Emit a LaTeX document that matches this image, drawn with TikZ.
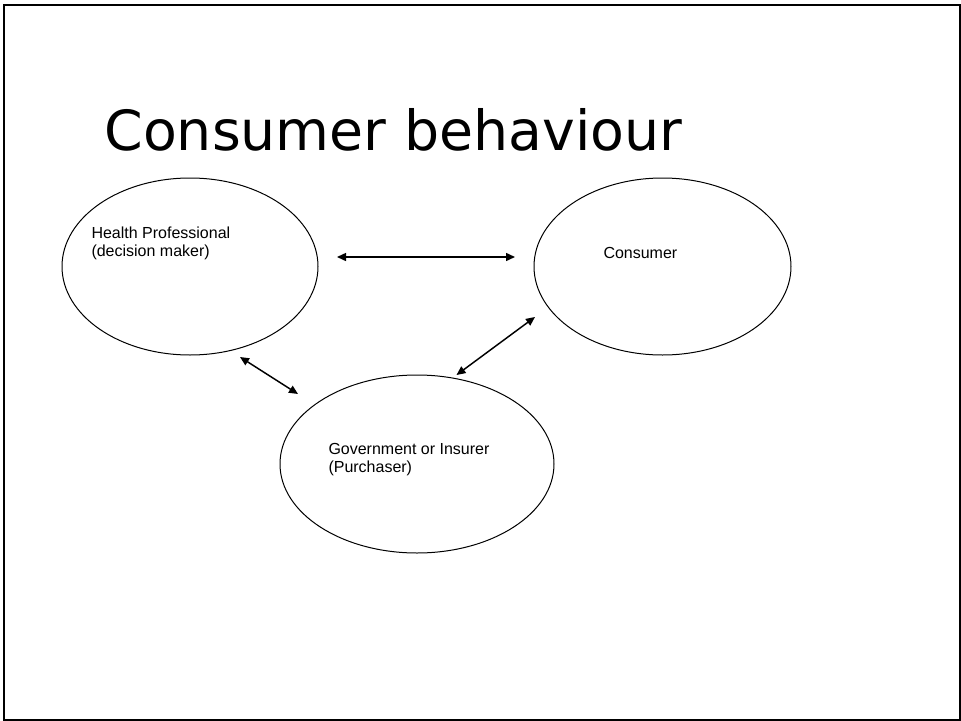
\documentclass[tikz,border=0pt]{standalone}
\usepackage{fontspec}
\setmainfont{Liberation Sans}
\newfontfamily\headfont{DejaVu Sans}
\usetikzlibrary{shapes.geometric,arrows.meta}

\tikzset{every picture/.style={line width=0.75pt}}
\tikzset{
  party/.style={draw, ellipse, inner sep=0pt, line width=0.75pt},
  partytext/.style={anchor=north west, inner sep=0pt, align=left, font=\fontsize{12}{13.6}\selectfont},
  link/.style={{Triangle[length=6.75pt,width=6pt]}-{Triangle[length=6.75pt,width=6pt]}, line width=1.1pt}
}

\begin{document}
\begin{tikzpicture}[x=0.75pt,y=0.75pt,yscale=-1,xscale=1]
\useasboundingbox (0,0) rectangle (961,721);

%Shape: Rectangle [id:slide frame]
\draw[line width=1.5pt] (4.3,4.5) rectangle (959.8,720);

%Title
\node[anchor=base west, inner sep=0pt, font=\headfont\fontsize{41.5}{48}\selectfont] (title) at (104,150) {Consumer behaviour};

%Shape: Ellipse [id:health professional]
\node[party, minimum width=192pt, minimum height=132.75pt] (hp) at (190,266.5) {};
\node[partytext] (hptext) at (91,226.5) {Health Professional\\(decision maker)};
%Shape: Ellipse [id:consumer]
\node[party, minimum width=192.75pt, minimum height=132.75pt] (cons) at (662.5,266.5) {};
\node[partytext] (constext) at (603,246.5) {Consumer};
%Shape: Ellipse [id:government]
\node[party, minimum width=205.5pt, minimum height=133.5pt] (gov) at (417,464) {};
\node[partytext] (govtext) at (328,442.5) {Government or Insurer\\(Purchaser)};

%Arrow ends
\coordinate (hpR) at (337,257);
\coordinate (consL) at (515,257);
\coordinate (hpB) at (240,357);
\coordinate (govL) at (298,394);
\coordinate (consB) at (535,317);
\coordinate (govT) at (456.5,375);

%Straight Lines [id:links]
\draw[link] (hpR) -- (consL);
\draw[link] (hpB) -- (govL);
\draw[link] (consB) -- (govT);

\end{tikzpicture}
\end{document}
